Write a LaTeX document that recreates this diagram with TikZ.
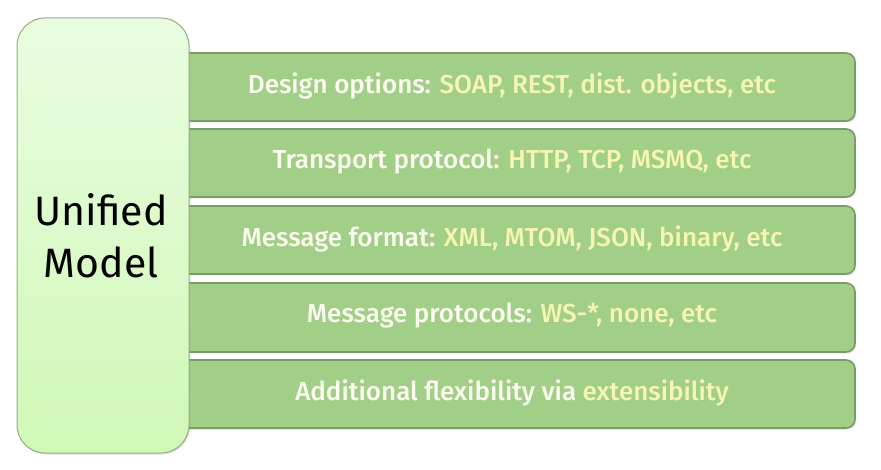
\documentclass[tikz,border=0pt]{standalone}
\usepackage{fontspec}
\setmainfont{Fira Sans Medium}
\newfontfamily\regfont{Fira Sans}
\usetikzlibrary{shadows}
\definecolor{barfill}{HTML}{A2CF88}
\definecolor{bardraw}{HTML}{7A9A68}
\definecolor{boxtop}{HTML}{E9FCE0}
\definecolor{boxbot}{HTML}{CFF8B6}
\definecolor{boxdraw}{HTML}{93B080}
\definecolor{txtw}{HTML}{FCFDF0}
\definecolor{txty}{HTML}{F7F5B2}
\tikzset{
  barbox/.style={fill=barfill, draw=bardraw, line width=1.6pt, rounded corners=9pt},
  bartext/.style={font=\fontsize{26}{28}\selectfont, text=txtw, anchor=center},
}
\newcommand{\yel}[1]{\textcolor{txty}{#1}}
\begin{document}
\begin{tikzpicture}[x=1pt,y=-1pt]
\useasboundingbox (0,0) rectangle (881,470);
\fill[white] (0,0) rectangle (881,470);
% bars
\foreach \t/\b in {53/121,129/197,206/274,283/352,360/428}{
  \draw[barbox, drop shadow={shadow xshift=1pt, shadow yshift=-1.5pt, opacity=0.25}] (170,\t) rectangle (855,\b);
}
\node[bartext] (t1) at (512,86) {Design options: \yel{SOAP, REST, dist. objects, etc}};
\node[bartext] (t2) at (512,162) {Transport protocol: \yel{HTTP, TCP, MSMQ, etc}};
\node[bartext] (t3) at (512,239) {Message format: \yel{XML, MTOM, JSON, binary, etc}};
\node[bartext] (t4) at (512,316) {Message protocols: \yel{WS-*, none, etc}};
\node[bartext] (t5) at (512,393) {Additional flexibility via \yel{extensibility}};
% left box
\path[drop shadow={shadow xshift=1pt, shadow yshift=-1.5pt, opacity=0.25}, top color=boxtop, bottom color=boxbot, draw=boxdraw, line width=1pt, rounded corners=28pt] (17,18) rectangle (189,453);
\node[font=\regfont\fontsize{41}{52}\selectfont, align=center, text=black] (um) at (101,236) {Unified\\Model};
\end{tikzpicture}
\end{document}
